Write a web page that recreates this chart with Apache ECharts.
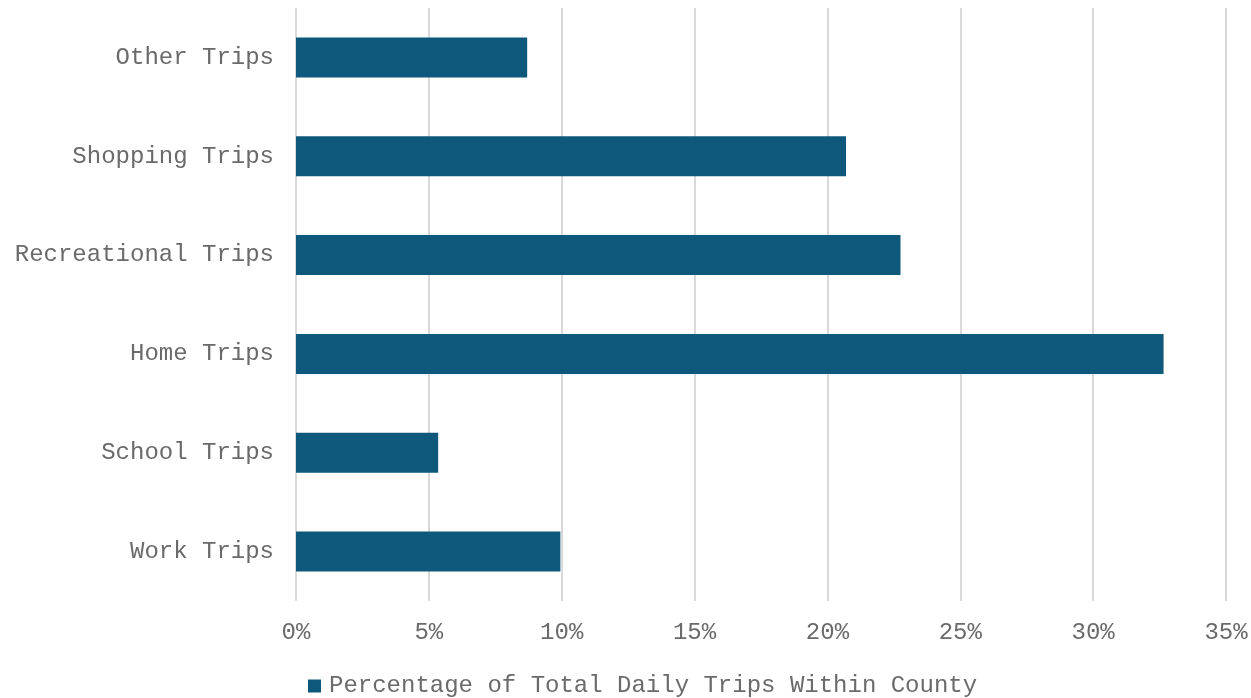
<!DOCTYPE html>
<html>
<head>
<meta charset="utf-8">
<script src="https://cdn.jsdelivr.net/npm/echarts@6/dist/echarts.min.js"></script>
<style>html,body{margin:0;padding:0;background:#fff}#c{width:1251px;height:698px}</style>
</head>
<body>
<div id="c"></div>
<script>
const categories = ["Work Trips", "School Trips", "Home Trips", "Recreational Trips", "Shopping Trips", "Other Trips"];
const values = [9.95, 5.35, 32.65, 22.75, 20.7, 8.7];
const seriesName = "Percentage of Total Daily Trips Within County";
const xTicks = [0, 5, 10, 15, 20, 25, 30, 35];

const font = "'Liberation Mono', 'Courier New', monospace";
const textColor = '#6a6a6a';
const chart = echarts.init(document.getElementById('c'), null, {renderer: 'canvas'});
chart.setOption({
  animation: false,
  backgroundColor: '#ffffff',
  grid: {left: 296, right: 25, top: 8, bottom: 97, containLabel: false},
  legend: {
    data: [seriesName],
    top: 669,
    left: 303,
    icon: 'rect',
    itemWidth: 13,
    itemHeight: 13,
    itemGap: 8,
    textStyle: {fontFamily: font, fontSize: 24, color: textColor, padding: [0, 0, 0, 3]}
  },
  xAxis: {
    type: 'value',
    min: xTicks[0],
    max: xTicks[xTicks.length - 1],
    interval: 5,
    axisLine: {show: false},
    axisTick: {show: false},
    splitLine: {show: true, lineStyle: {color: '#d9d9d9', width: 2}},
    axisLabel: {
      formatter: v => v + '%',
      fontFamily: font, fontSize: 24, color: textColor, margin: 20
    }
  },
  yAxis: {
    type: 'category',
    data: categories,
    axisLine: {show: false},
    axisTick: {show: false},
    axisLabel: {fontFamily: font, fontSize: 24, color: textColor, margin: 22}
  },
  series: [{
    name: seriesName,
    type: 'bar',
    data: values,
    barWidth: 40,
    itemStyle: {color: '#0e587c'}
  }]
});
</script>
</body>
</html>
